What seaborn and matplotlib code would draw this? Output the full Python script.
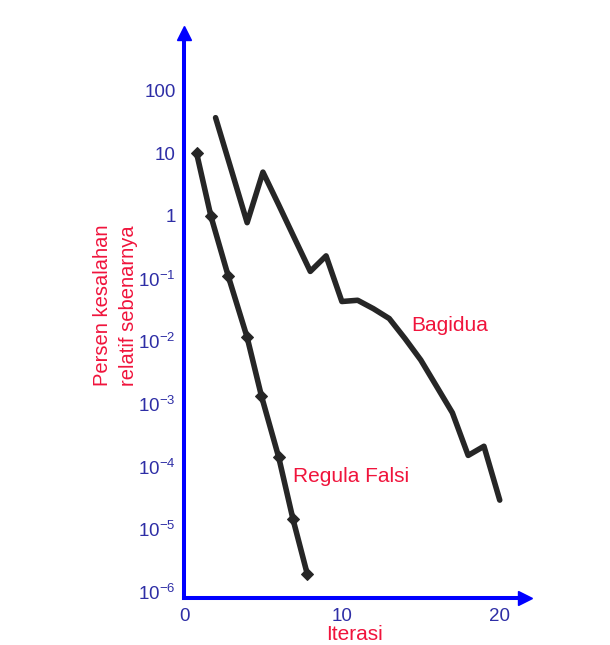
import numpy as np
import pandas as pd
import matplotlib
matplotlib.use("Agg")
import matplotlib.pyplot as plt
import seaborn as sns

# ---- data ----
rf_x = [0.8, 1.7, 2.8, 4.0, 4.9, 6.0, 6.9, 7.8]
rf_y = [10, 1.0, 0.11, 0.0115, 0.00135, 1.4e-4, 1.45e-5, 1.95e-6]

bg_x = [2, 3, 4, 5, 6, 7, 8, 9, 10, 11, 12, 13, 14, 15, 16, 17, 18, 19, 20]
bg_y = [37, 5.4, 0.78, 5.0, 1.5, 0.44, 0.13, 0.23, 0.043, 0.045, 0.033,
        0.023, 0.011, 0.005, 0.0019, 7.2e-4, 1.5e-4, 2.1e-4, 2.9e-5]

y_ticks = [1e-6, 1e-5, 1e-4, 1e-3, 1e-2, 1e-1, 1, 10, 100]
y_tick_labels = [r"$\mathregular{10^{-6}}$", r"$\mathregular{10^{-5}}$",
                 r"$\mathregular{10^{-4}}$", r"$\mathregular{10^{-3}}$",
                 r"$\mathregular{10^{-2}}$", r"$\mathregular{10^{-1}}$",
                 "1", "10", "100"]
x_ticks = [0, 10, 20]
x_tick_labels = ["0", "10", "20"]
x_minor = [2, 4, 6, 8, 12, 14, 16, 18]

xlabel = "Iterasi"
ylabel = "Persen kesalahan\nrelatif sebenarnya"
label_rf = "Regula Falsi"
label_bg = "Bagidua"

# ---- style ----
sns.set_style("white")
plt.rcParams["font.family"] = ["Liberation Sans", "DejaVu Sans"]
plt.rcParams["mathtext.fontset"] = "custom"
plt.rcParams["mathtext.rm"] = "Liberation Sans"

BLUE = "#0000ff"
TICKCOL = "#2e2ea6"
RED = "#f0143c"
LINE = "#262626"

df_rf = pd.DataFrame({"x": rf_x, "y": rf_y})
df_bg = pd.DataFrame({"x": bg_x, "y": bg_y})

fig = plt.figure(figsize=(6.1, 6.45), dpi=100)
# axes: x=0 at px 184, right end px 525; bottom px 598, top px 33
ax = fig.add_axes([184 / 610, (645 - 598) / 645, (525 - 184) / 610, (598 - 33) / 645])

sns.lineplot(data=df_bg, x="x", y="y", ax=ax, color=LINE, lw=4.0,
             sort=False, estimator=None)
sns.lineplot(data=df_rf, x="x", y="y", ax=ax, color=LINE, lw=4.0,
             marker="D", markersize=6.5, markeredgecolor=LINE,
             sort=False, estimator=None)

ax.set_yscale("log")
ax.set_xlim(0, 21.6)
ax.set_ylim(10 ** -6.1, 10 ** 2.92)

ax.set_yticks(y_ticks)
ax.set_yticklabels(y_tick_labels)
ax.yaxis.set_minor_locator(matplotlib.ticker.NullLocator())
ax.set_xticks(x_ticks)
ax.set_xticklabels(x_tick_labels)
ax.set_xticks(x_minor, minor=True)

ax.tick_params(axis="y", which="major", direction="in", length=13, width=2,
               color=BLUE, labelcolor=TICKCOL, labelsize=13.5, pad=6)
ax.tick_params(axis="x", which="both", direction="in", length=8, width=2,
               color=BLUE, labelcolor=TICKCOL, labelsize=13.5, pad=7)

for s in ["top", "right"]:
    ax.spines[s].set_visible(False)
for s in ["left", "bottom"]:
    ax.spines[s].set_color(BLUE)
    ax.spines[s].set_linewidth(2.9)

# arrow heads at axis ends
ax.plot([0], [1.0], marker="^", color=BLUE, ms=10, transform=ax.transAxes,
        clip_on=False)
ax.plot([1.0], [0], marker=">", color=BLUE, ms=10, transform=ax.transAxes,
        clip_on=False)

ax.set_xlabel(xlabel, color=RED, fontsize=15, labelpad=0)
ax.set_ylabel(ylabel, color=RED, fontsize=14.5, linespacing=1.45)
ax.yaxis.set_label_coords(-0.135, 0.518)

ax.text(16.8, 10 ** -1.75, label_bg, color=RED, fontsize=15,
        ha="center", va="center")
ax.text(10.6, 10 ** -4.16, label_rf, color=RED, fontsize=15,
        ha="center", va="center")

ax.grid(False)
fig.savefig("out.png", dpi=100, facecolor="white")
